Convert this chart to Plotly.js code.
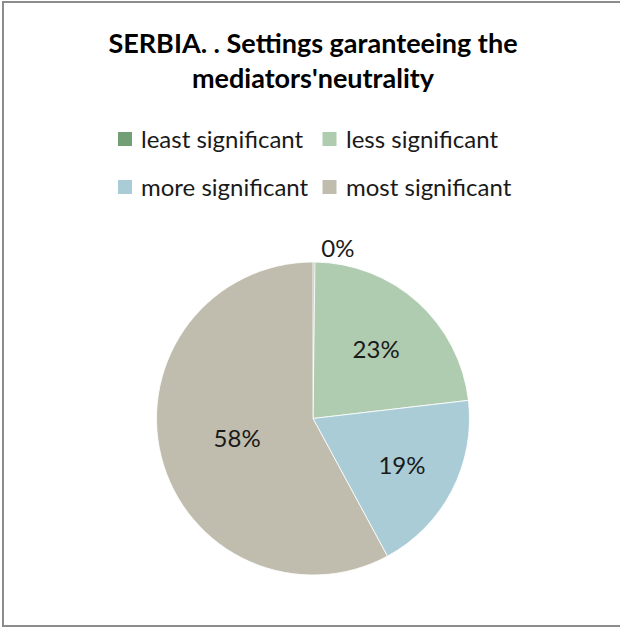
<!DOCTYPE html>
<html>
<head>
<meta charset="utf-8">
<script src="https://cdn.plot.ly/plotly-3.0.1.min.js"></script>
<style>
html,body{margin:0;padding:0;background:#fff;}
#wrap{position:absolute;left:0;top:0;width:620px;height:630px;overflow:hidden;}
#chart{position:absolute;left:0;top:0;width:620px;height:630px;}
#frame{position:absolute;left:2px;top:1px;width:640px;height:626px;border:2px solid #8c8c8c;border-right:none;pointer-events:none;box-sizing:border-box;}
</style>
</head>
<body>
<div id="wrap"><div id="chart"></div><div id="frame"></div></div>
<script>
const titleText = "SERBIA. . Settings garanteeing the<br>mediators'neutrality";
const categories = ["least significant", "less significant", "more significant", "most significant"];
const values = [0.2, 23, 19, 58];
const colors = ["#729f76", "#afcbb0", "#a9ccd6", "#c0bdae"];
const textPositions = ["outside", "inside", "inside", "inside"];

const FONT = "Lato, 'Open Sans', sans-serif";
const W = 620, H = 630;

const trace = {
  type: "pie",
  labels: categories,
  values: values,
  sort: false,
  direction: "clockwise",
  rotation: 0,
  marker: {colors: colors, line: {color: "#ffffff", width: 0.8}},
  textinfo: "percent",
  texttemplate: "%{percent:.0%}",
  textposition: textPositions,
  insidetextorientation: "horizontal",
  textfont: {family: FONT, size: 24, color: "#1a1a1a"},
  outsidetextfont: {family: FONT, size: 24, color: "#1a1a1a"},
  domain: {x: [156/W, 470/W], y: [1 - 575/H, 1 - 262/H]},
  automargin: false,
  hoverinfo: "label+percent",
  showlegend: false
};

// Legend (2 columns x 2 rows) built from categories/colors
const legendCols = [118, 322.5];
const legendRows = [139, 187];
const keySize = 14;
const shapes = [];
const annotations = [];
categories.forEach((name, i) => {
  const cx = legendCols[i % 2];
  const cy = legendRows[Math.floor(i / 2)];
  shapes.push({
    type: "rect", xref: "paper", yref: "paper",
    x0: cx / W, x1: (cx + keySize) / W,
    y0: 1 - (cy + keySize / 2) / H, y1: 1 - (cy - keySize / 2) / H,
    fillcolor: colors[i], line: {width: 0}
  });
  annotations.push({
    xref: "paper", yref: "paper",
    x: (cx + keySize + 8) / W, y: 1 - (cy - 1) / H,
    xanchor: "left", yanchor: "middle",
    text: name, showarrow: false, borderpad: 0,
    font: {family: FONT, size: 24, color: "#1a1a1a"}
  });
});

const layout = {
  width: W,
  height: H,
  margin: {l: 0, r: 0, t: 0, b: 0},
  paper_bgcolor: "#ffffff",
  plot_bgcolor: "#ffffff",
  font: {family: FONT, color: "#000"},
  title: {
    text: "<b>" + titleText + "</b>",
    font: {family: FONT, size: 27, color: "#000"},
    x: 313 / W, xanchor: "center",
    y: 1 - 53 / H, yanchor: "top"
  },
  showlegend: false,
  shapes: shapes,
  annotations: annotations
};

Plotly.newPlot("chart", [trace], layout, {displayModeBar: false, staticPlot: true});
</script>
</body>
</html>
